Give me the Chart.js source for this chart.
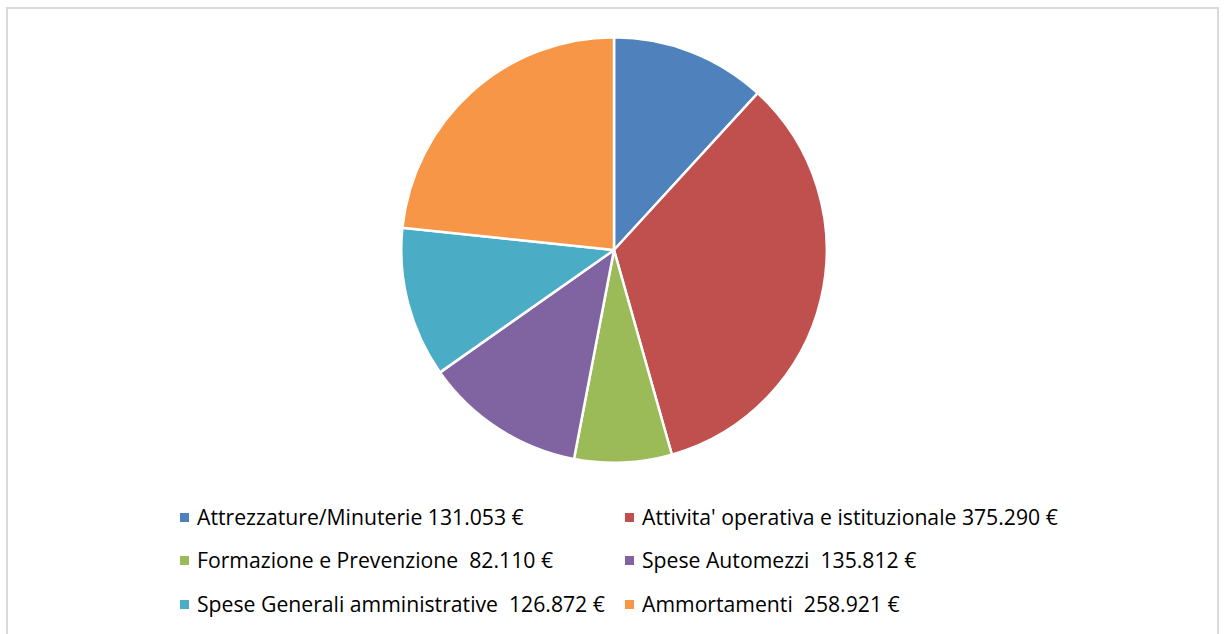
<!DOCTYPE html>
<html>
<head>
<meta charset="utf-8">
<script src="https://cdn.jsdelivr.net/npm/chart.js@4"></script>
<style>
  body { margin: 0; background: #fff; }
  #frame {
    position: absolute; left: 6px; top: 7px; width: 1213px; height: 640px;
    border: 2px solid #d9d9d9; box-sizing: border-box;
  }
  #pieBox { position: absolute; left: 400px; top: 36px; width: 428px; height: 428px; }
  #legend { position: absolute; left: 0; top: 0; }
  .item {
    position: absolute; font-family: "Open Sans", sans-serif; font-size: 21.2px; color: #000;
    white-space: pre; line-height: 24px;
  }
  .box { display: inline-block; width: 9px; height: 9px; margin-right: 8px; vertical-align: 3px; }
</style>
</head>
<body>
<div id="frame"></div>
<div id="pieBox"><canvas id="myChart"></canvas></div>
<div id="legend"></div>
<script>
var categories = [
  "Attrezzature/Minuterie",
  "Attivita' operativa e istituzionale",
  "Formazione e Prevenzione ",
  "Spese Automezzi ",
  "Spese Generali amministrative ",
  "Ammortamenti "
];
var amounts = [131053, 375290, 82110, 135812, 126872, 258921];
var colors = ['#4f81bd', '#c0504d', '#9bbb59', '#8064a2', '#4bacc6', '#f79646'];

function euro(v) {
  return String(v).replace(/\B(?=(\d{3})+(?!\d))/g, ".") + " €";
}

var ctx = document.getElementById("myChart").getContext("2d");
var myChart = new Chart(ctx, {
  type: "pie",
  data: {
    labels: categories,
    datasets: [{
      data: amounts,
      backgroundColor: colors,
      borderColor: '#ffffff',
      borderWidth: 2.5
    }]
  },
  options: {
    responsive: true,
    maintainAspectRatio: false,
    animation: false,
    plugins: {
      legend: { display: false },
      tooltip: { enabled: false }
    }
  }
});

// legend laid out in two columns, like the original
var legend = document.getElementById("legend");
var colX = [180, 625];
var rowY = [505, 548, 592];
categories.forEach(function(name, i) {
  var el = document.createElement("div");
  el.className = "item";
  el.style.left = colX[i % 2] + "px";
  el.style.top = rowY[Math.floor(i / 2)] + "px";
  el.innerHTML = '<span class="box" style="background:' + colors[i] + '"></span>' + name + ' ' + euro(amounts[i]);
  legend.appendChild(el);
});
</script>
</body>
</html>
